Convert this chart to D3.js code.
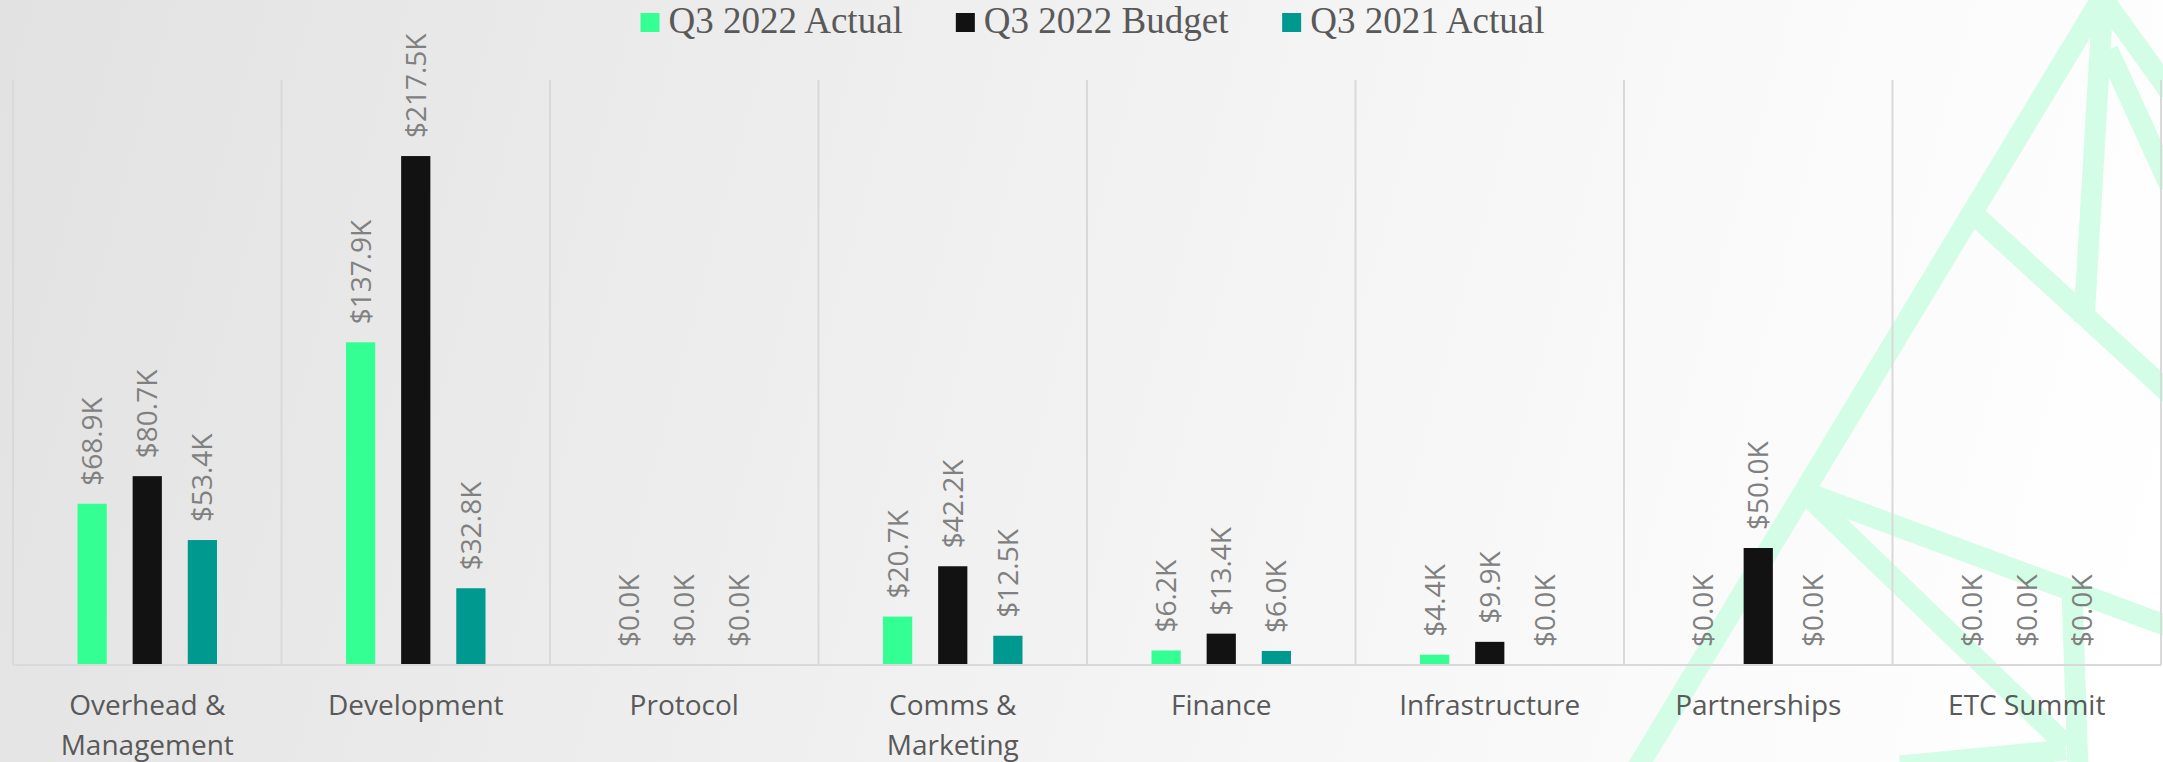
<!DOCTYPE html>
<html>
<head>
<meta charset="utf-8">
<script src="https://cdn.jsdelivr.net/npm/d3@7"></script>
<style>
  html, body { margin: 0; padding: 0; background: #ffffff; }
  svg { display: block; }
</style>
</head>
<body>
<svg id="chart" width="2163" height="762"></svg>
<script>
// ---- data ----
const categories = ["Overhead & Management", "Development", "Protocol", "Comms & Marketing", "Finance", "Infrastructure", "Partnerships", "ETC Summit"];
const seriesNames = ["Q3 2022 Actual", "Q3 2022 Budget", "Q3 2021 Actual"];
const actual2022 = [68.9, 137.9, 0.0, 20.7, 6.2, 4.4, 0.0, 0.0];
const budget2022 = [80.7, 217.5, 0.0, 42.2, 13.4, 9.9, 50.0, 0.0];
const actual2021 = [53.4, 32.8, 0.0, 12.5, 6.0, 0.0, 0.0, 0.0];
const seriesColors = ["#33ff93", "#121212", "#00998f"];

// ---- layout ----
const W = 2163, H = 762;
const plotLeft = 13, plotRight = 2161, plotTop = 80, plotBase = 665;

const svg = d3.select("#chart");

// background gradient
const defs = svg.append("defs");
const grad = defs.append("linearGradient").attr("id", "bg")
  .attr("gradientUnits", "userSpaceOnUse")
  .attr("x1", 0).attr("y1", 0).attr("x2", W).attr("y2", 580);
[[0, "#e2e2e2"], [0.45, "#f0f0f0"], [0.75, "#f9f9f9"], [1, "#ffffff"]].forEach(([o, c]) =>
  grad.append("stop").attr("offset", o).attr("stop-color", c));
svg.append("rect").attr("width", W).attr("height", H).attr("fill", "url(#bg)");

// decorative logo outline (background art)
const deco = svg.append("g").attr("fill", "none").attr("stroke", "#d4fde7").attr("stroke-width", 21);
const decoLines = [
  [[2103, -4], [1636, 770]],
  [[1978, 218], [2170, 394]],
  [[2103, 0], [2084, 322]],
  [[1810, 494], [2170, 627]],
  [[1812, 500], [2066, 745]],
  [[2066, 750], [1900, 766]],
  [[2072, 592], [2078, 770]],
  [[2104, 0], [2170, 92]],
  [[2108, 50], [2170, 186]]
];
decoLines.forEach(pts => deco.append("path").attr("d", d3.line()(pts)));

// scales
const x0 = d3.scaleBand().domain(categories).range([plotLeft, plotRight]).padding(0);
const x1 = d3.scaleBand().domain(seriesNames).range([0, x0.bandwidth()])
  .paddingInner(0.47).paddingOuter(1.17);
const y = d3.scaleLinear().domain([0, 250]).range([plotBase, plotTop]);

// vertical gridlines at category boundaries
const edges = categories.map(c => x0(c)).concat([x0.range()[1]]);
svg.append("g").selectAll("line").data(edges).join("line")
  .attr("x1", d => d).attr("x2", d => d)
  .attr("y1", plotTop).attr("y2", plotBase)
  .attr("stroke", "#d9d9d9").attr("stroke-width", 2);

// bars
const seriesValues = [actual2022, budget2022, actual2021];
const rows = [];
categories.forEach((c, i) => seriesNames.forEach((s, j) =>
  rows.push({ cat: c, series: s, value: seriesValues[j][i], color: seriesColors[j] })));

svg.append("g").selectAll("rect").data(rows.filter(d => d.value > 0)).join("rect")
  .attr("x", d => x0(d.cat) + x1(d.series))
  .attr("width", x1.bandwidth())
  .attr("y", d => y(d.value))
  .attr("height", d => y(0) - y(d.value))
  .attr("fill", d => d.color);

// value labels
const fmt = v => "$" + d3.format(".1f")(v) + "K";
svg.append("g").selectAll("text").data(rows).join("text")
  .attr("transform", d => `translate(${x0(d.cat) + x1(d.series) + x1.bandwidth() / 2},${y(d.value) - 18}) rotate(-90)`)
  .attr("dy", "0.36em")
  .attr("text-anchor", "start")
  .attr("font-family", "'Open Sans', sans-serif")
  .attr("font-size", 28)
  .attr("fill", "#808080")
  .text(d => fmt(d.value));

// category axis
const axis = svg.append("g").attr("transform", `translate(0,${plotBase})`)
  .call(d3.axisBottom(x0).tickSize(0).tickPadding(30));
axis.select(".domain").attr("stroke", "#d9d9d9").attr("stroke-width", 2)
  .attr("d", `M${plotLeft},0H${plotRight}`);
axis.selectAll(".tick text")
  .attr("font-family", "'Open Sans', sans-serif")
  .attr("font-size", 28)
  .attr("fill", "#595959")
  .each(function () {
    const t = d3.select(this);
    const words = t.text().split(/\s+/);
    const yv = +t.attr("y"), dyv = t.attr("dy");
    t.text(null);
    let line = [], lineNo = 0;
    let tsp = t.append("tspan").attr("x", 0).attr("y", yv).attr("dy", dyv);
    words.forEach(w => {
      line.push(w);
      tsp.text(line.join(" "));
      if (tsp.node().getComputedTextLength() > 250 && line.length > 1) {
        line.pop();
        tsp.text(line.join(" "));
        line = [w];
        lineNo++;
        tsp = t.append("tspan").attr("x", 0).attr("y", yv + lineNo * 40).attr("dy", dyv).text(w);
      }
    });
  });

// legend
const legend = svg.append("g");
const items = legend.selectAll("g").data(seriesNames).join("g");
items.append("rect").attr("width", 19).attr("height", 19).attr("y", 13)
  .attr("fill", (d, i) => seriesColors[i]);
items.append("text").attr("x", 28).attr("y", 33)
  .attr("font-family", "'Liberation Serif', serif")
  .attr("font-size", 37)
  .attr("fill", "#595959")
  .text(d => d);
const widths = [];
items.each(function () { widths.push(this.getBBox().width); });
const gap = 53;
const total = d3.sum(widths) + gap * (widths.length - 1);
let cx = 1092.5 - total / 2;
items.attr("transform", (d, i) => {
  const tx = cx; cx += widths[i] + gap; return `translate(${tx},0)`;
});
</script>
</body>
</html>
